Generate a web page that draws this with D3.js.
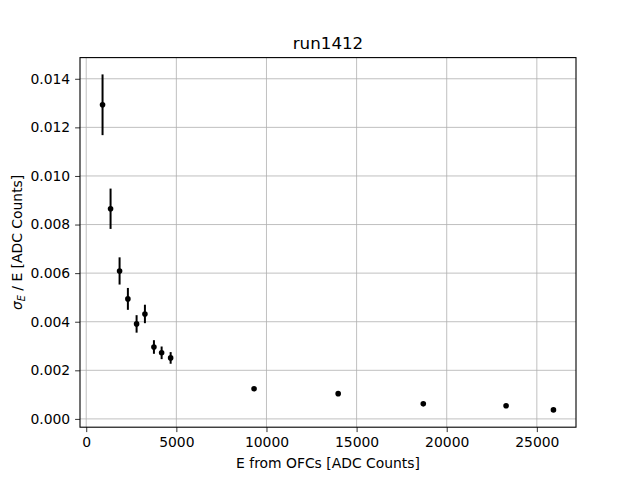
<!DOCTYPE html>
<html><head><meta charset="utf-8">
<script src="https://cdn.jsdelivr.net/npm/d3@7"></script>
<style>body{margin:0;background:#fff}</style>
</head><body>
<script>
const energies = [905, 1350, 1850, 2311, 2794, 3256, 3756, 4183, 4683, 9311, 13978, 18700, 23294, 25922];
const resolution = [0.01293, 0.00865, 0.00609, 0.00494, 0.00391, 0.00432, 0.00296, 0.00272, 0.00251, 0.00124, 0.00104, 0.00062, 0.00054, 0.00037];
const errors = [0.00125, 0.00083, 0.00056, 0.00045, 0.00036, 0.00038, 0.00028, 0.00026, 0.00024, 0.00005, 0.00003, 0.00003, 0.00002, 0.00002];
const xTicks = [0, 5000, 10000, 15000, 20000, 25000];
const yTicks = [0.000, 0.002, 0.004, 0.006, 0.008, 0.010, 0.012, 0.014];
const title = "run1412";

const W = 640, H = 480;
const L = 80, R = 576, T = 57.6, B = 427.2;
const svg = d3.select("body").append("svg").attr("width", W).attr("height", H)
  .style("font-family", "DejaVu Sans, sans-serif");

const xmin = d3.min(energies), xmax = d3.max(energies);
const xm = (xmax - xmin) * 0.05;
const ylo = d3.min(resolution.map((v, i) => v - errors[i]));
const yhi = d3.max(resolution.map((v, i) => v + errors[i]));
const ym = (yhi - ylo) * 0.05;
const x = d3.scaleLinear().domain([xmin - xm, xmax + xm]).range([L, R]);
const y = d3.scaleLinear().domain([ylo - ym, yhi + ym]).range([B, T]);

// grid
const g = svg.append("g");
g.selectAll(".gx").data(xTicks).enter().append("line")
  .attr("x1", d => x(d)).attr("x2", d => x(d)).attr("y1", T).attr("y2", B)
  .attr("stroke", "#b0b0b0").attr("stroke-width", 0.8);
g.selectAll(".gy").data(yTicks).enter().append("line")
  .attr("y1", d => y(d)).attr("y2", d => y(d)).attr("x1", L).attr("x2", R)
  .attr("stroke", "#b0b0b0").attr("stroke-width", 0.8);

// axes
const xAxis = d3.axisBottom(x).tickValues(xTicks).tickFormat(d3.format("d")).tickSizeOuter(0).tickSize(4.9).tickPadding(4.9);
const yAxis = d3.axisLeft(y).tickValues(yTicks).tickFormat(d3.format(".3f")).tickSizeOuter(0).tickSize(4.9).tickPadding(4.9);
const gx = svg.append("g").attr("transform", `translate(0,${B})`).call(xAxis);
const gy = svg.append("g").attr("transform", `translate(${L},0)`).call(yAxis);
[gx, gy].forEach(a => {
  a.select(".domain").remove();
  a.selectAll(".tick line").attr("stroke", "#000").attr("stroke-width", 0.8);
  a.selectAll(".tick text").attr("font-size", 13.9).attr("fill", "#000").style("font-family", "DejaVu Sans, sans-serif");
});

// error bars and points
svg.append("g").selectAll("line").data(energies).enter().append("line")
  .attr("x1", (d) => x(d)).attr("x2", d => x(d))
  .attr("y1", (d, i) => y(resolution[i] - errors[i]))
  .attr("y2", (d, i) => y(resolution[i] + errors[i]))
  .attr("stroke", "#000").attr("stroke-width", 2);
svg.append("g").selectAll("circle").data(energies).enter().append("circle")
  .attr("cx", d => x(d)).attr("cy", (d, i) => y(resolution[i]))
  .attr("r", 2.8).attr("fill", "#000");

// spines
svg.append("rect").attr("x", L).attr("y", T).attr("width", R - L).attr("height", B - T)
  .attr("fill", "none").attr("stroke", "#000").attr("stroke-width", 1.1);

// title
svg.append("text").attr("x", (L + R) / 2).attr("y", T - 9).attr("text-anchor", "middle")
  .attr("font-size", 16.7).text(title);

// x label
svg.append("text").attr("x", (L + R) / 2).attr("y", 468).attr("text-anchor", "middle")
  .attr("font-size", 13.9).text("E from OFCs [ADC Counts]");

// y label
const yl = svg.append("text").attr("transform", `translate(22,${(T + B) / 2}) rotate(-90)`)
  .attr("text-anchor", "middle").attr("font-size", 13.9);
yl.append("tspan").attr("font-style", "italic").text("σ");
yl.append("tspan").attr("font-size", 9.7).attr("dy", 3).attr("font-style", "italic").text("E");
yl.append("tspan").attr("dy", -3).text(" / E [ADC Counts]");
</script>
</body></html>
